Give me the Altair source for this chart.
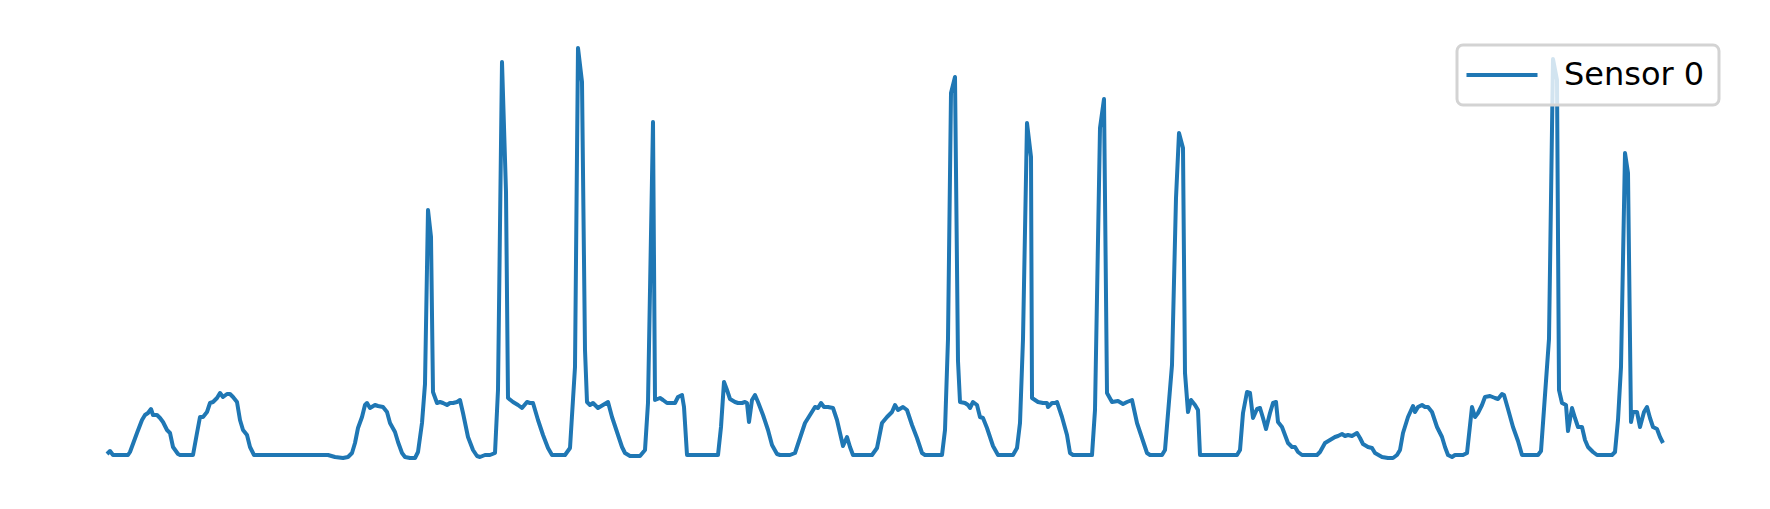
import altair as alt
import pandas as pd

# Sensor trace (time in sample units, value in arbitrary units)
t_px = [107,110,113,128,130,137,142,145,148,151,153,157,160,163,167,170,173,178,180,193,197,200,203,207,210,213,217,220,223,227,230,233,237,240,243,247,250,254,
        328,335,343,348,352,355,358,362,365,367,370,375,378,383,387,390,395,398,402,405,410,415,418,422,425,428,431,433,437,440,443,447,450,453,457,460,463,468,473,477,480,485,490,495,
        498,502,506,508,513,518,522,527,530,533,538,543,548,552,565,570,575,578,582,585,587,590,593,598,603,608,612,617,622,625,630,640,645,648,653,655,660,663,667,672,675,678,682,684,687,
        718,721,724,727,730,735,738,742,745,747,749,752,755,758,763,768,772,777,780,790,795,800,805,810,815,818,821,824,828,833,837,840,843,847,850,853,872,877,882,887,892,895,898,903,907,912,917,922,925,
        942,945,948,951,955,958,960,965,968,970,973,977,980,983,987,990,993,998,1013,1017,1020,1023,1027,1031,1032,1038,1043,1047,1048,1052,1055,1057,1062,1067,1070,1073,1092,1095,1100,1104,1107,1112,1118,1123,1127,1132,1137,1142,1147,1150,
        1162,1165,1172,1176,1179,1183,1185,1188,1191,1195,1198,1200,1237,1240,1243,1247,1250,1253,1257,1260,1263,1266,1270,1273,1276,1278,1282,1285,1288,1292,1295,1298,1302,1317,1320,1325,1330,1335,1338,1342,1345,1348,1352,1357,1360,1363,1368,1372,1375,1382,1388,1393,1397,1400,1403,1408,1413,1415,1418,1422,1425,1428,1432,1437,1442,1445,1448,1452,1455,1463,1467,
        1472,1475,1478,1482,1485,1490,1495,1498,1502,1504,1508,1513,1518,1522,1538,1541,1549,1553,1557,1559,1562,1566,1568,1572,1575,1578,1582,1585,1588,1593,1597,1612,1615,1618,1621,1625,1628,1631,1633,1637,1640,1644,1647,1650,1653,1657,1660,1663]
v_px = [454,451,455,455,452,433,420,415,413,409,415,415,418,422,430,433,447,454,455,455,433,417,417,412,403,402,398,393,397,394,394,397,402,420,430,435,447,455,
        455,457,458,457,453,443,428,417,405,403,408,405,406,407,412,423,432,442,453,457,458,458,452,423,384,210,237,392,403,402,403,405,403,403,402,400,413,437,450,456,457,455,455,453,
        390,62,192,398,402,405,408,402,403,403,420,435,448,455,455,448,367,48,82,350,402,405,403,408,405,402,417,432,447,453,456,456,450,403,122,400,398,400,403,403,403,397,395,407,455,
        455,427,382,390,399,402,403,403,402,403,422,400,395,402,415,430,445,454,455,455,453,438,423,415,407,408,403,407,407,408,420,433,446,437,447,455,455,448,423,417,412,405,410,407,410,425,438,453,455,
        455,430,339,93,77,361,402,403,405,408,402,405,417,418,428,437,446,455,455,448,423,339,123,157,398,402,403,403,407,403,403,402,417,435,453,455,455,410,128,99,393,402,401,404,402,400,423,438,453,455,
        455,450,365,198,133,148,373,412,400,405,410,455,455,450,413,392,393,418,409,408,418,429,413,403,402,422,427,435,443,447,447,452,455,455,452,443,440,437,436,434,436,435,436,433,438,444,447,448,453,457,458,458,455,450,433,417,406,412,407,405,407,407,412,427,437,447,455,457,455,455,453,
        407,417,413,405,397,396,398,399,394,395,409,427,441,455,455,451,339,59,80,390,403,405,431,408,418,427,427,440,447,452,455,455,452,420,367,153,173,422,412,412,427,412,407,418,427,429,437,443]

BASE = 455
time = [x - 107 for x in t_px]
value = [BASE - y for y in v_px]
series = ["Sensor 0"] * len(time)

df = pd.DataFrame({"time": time, "value": value, "series": series})

chart = alt.Chart(df).mark_line(strokeWidth=4, strokeJoin="round").encode(
    x=alt.X("time:Q", axis=None, scale=alt.Scale(domain=[-99, 1655], nice=False, zero=False)),
    y=alt.Y("value:Q", axis=None, scale=alt.Scale(domain=[-46, 447], nice=False, zero=False)),
    color=alt.Color(
        "series:N",
        scale=alt.Scale(domain=["Sensor 0"], range=["#1f77b4"]),
        legend=alt.Legend(
            title=None,
            orient="none",
            legendX=1449,
            legendY=37,
            padding=14,
            symbolType="M-2.536,0H2.536",
            symbolSize=784,
            symbolStrokeWidth=4,
            symbolOffset=15,
            labelFont="DejaVu Sans",
            labelFontSize=32,
            labelColor="black",
            labelOffset=46,
            fillColor="rgba(255,255,255,0.8)",
            strokeColor="#d3d3d3",
            cornerRadius=6,
            zindex=1,
        ),
    ),
).properties(width=1754, height=493, padding=0, autosize="none", background="white").configure_view(
    stroke=None
).configure_legend(strokeWidth=3)

chart.save("out.html", embed_options={"renderer": "svg", "actions": False})
